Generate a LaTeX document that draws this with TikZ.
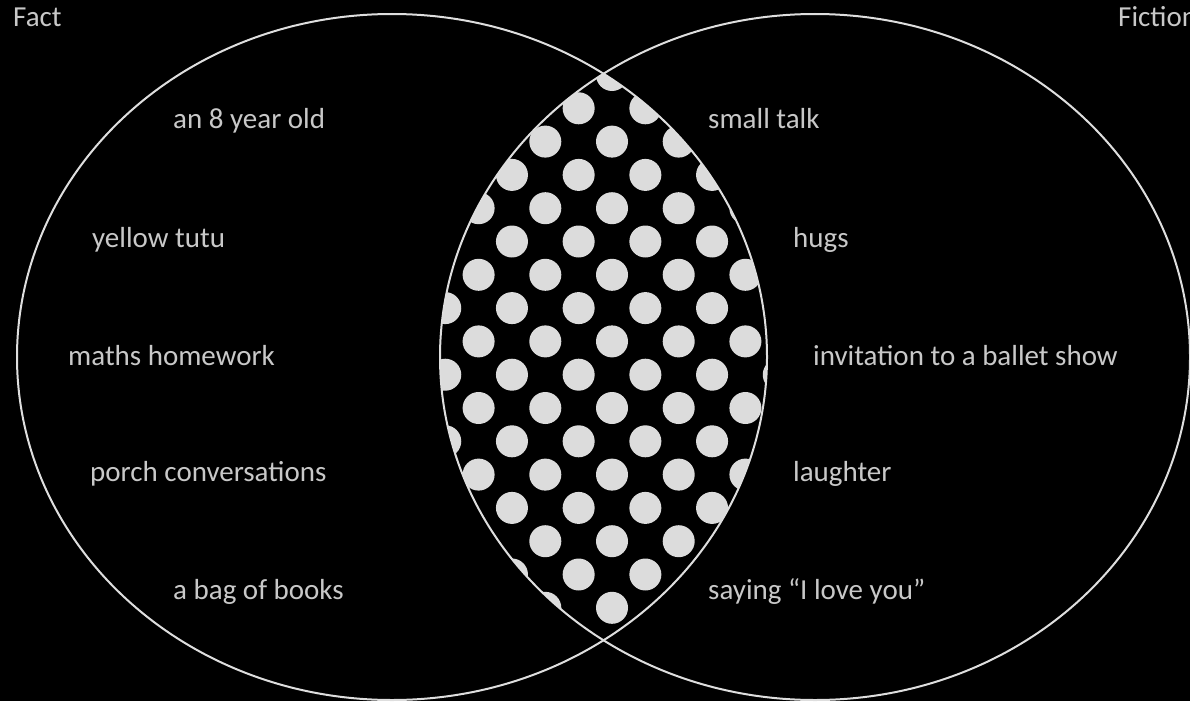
\documentclass[tikz,border=0pt]{standalone}
\usepackage{fontspec}
\setmainfont{Carlito}
\usepackage{tikz}
\usetikzlibrary{positioning}
\definecolor{ringgray}{RGB}{222,222,222}
\definecolor{dotgray}{RGB}{220,220,220}
\definecolor{textgray}{RGB}{200,200,200}

\begin{document}
\begin{tikzpicture}[x=1pt, y=-1pt, every node/.style={text=textgray, font=\fontsize{29}{31}\selectfont, anchor=base west, inner sep=0pt}]
          \useasboundingbox (0,0) rectangle (1190,701);
          \fill[black] (0,0) rectangle (1190,701);

          \begin{scope}
            \clip (392,357) ellipse [x radius=375, y radius=343];
            \clip (815,357) ellipse [x radius=375, y radius=343];
            \foreach \k in {0,...,16}
              \foreach \i in {-3,...,3}
                \fill[dotgray] ({612-33.35*mod(\k,2)+66.7*\i}, {75+33.3*\k}) circle (16);
          \end{scope}

          \draw[ringgray, line width=2pt] (392,357) ellipse [x radius=375, y radius=343];
          \draw[ringgray, line width=2pt] (815,357) ellipse [x radius=375, y radius=343];

          \node (fact) at (13, 27) {Fact};
          \node (fiction) at (1118, 27) {Fiction};

          \node (l1) at (173, 128) {an 8 year old};
          \node (l2) at (92, 247) {yellow tutu};
          \node (l3) at (68, 365) {maths homework};
          \node (l4) at (90, 481) {porch conversations};
          \node (l5) at (173, 599) {a bag of books};

          \node (r1) at (708, 128) {small talk};
          \node (r2) at (793, 247) {hugs};
          \node (r3) at (813, 365) {invitation to a ballet show};
          \node (r4) at (793, 481) {laughter};
          \node (r5) at (708, 599) {saying “I love you”};
        \end{tikzpicture}
\end{document}
